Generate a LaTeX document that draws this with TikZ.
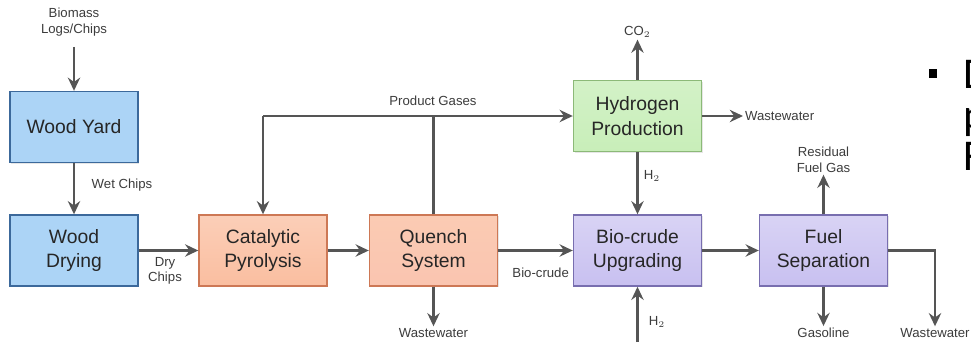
\documentclass[tikz,border=0pt]{standalone}
\usepackage{fontspec}
\setmainfont{Liberation Sans}
\newfontfamily\slidefont{Carlito}
\usepackage{tikz}
\usetikzlibrary{arrows.meta, positioning, calc, shadows}
\definecolor{flowgray}{RGB}{85, 85, 85}
\definecolor{yardblue}{RGB}{172, 212, 246}
\definecolor{yardedge}{RGB}{60, 105, 155}
\definecolor{pyroorange}{RGB}{250, 190, 160}
\definecolor{pyroedge}{RGB}{205, 120, 85}
\definecolor{hydrogreen}{RGB}{200, 238, 185}
\definecolor{hydroedge}{RGB}{140, 185, 120}
\definecolor{upgpurple}{RGB}{200, 192, 240}
\definecolor{upgedge}{RGB}{120, 110, 175}
\definecolor{labelgray}{RGB}{60, 60, 60}

\begin{document}
\begin{tikzpicture}[x=0.2mm, y=-0.2mm,
    proc/.style={draw, line width=0.8pt, minimum width=25.6mm, minimum height=14.2mm,
                 align=center, text=black!85, font=\fontsize{11}{14}\selectfont,
                 drop shadow={opacity=0.2, shadow xshift=0.8pt, shadow yshift=-0.8pt}},
    flow/.style={draw=flowgray, line width=1.4pt, -{Stealth[length=7.5pt, width=7pt, inset=2.5pt]}},
    pipe/.style={draw=flowgray, line width=1.4pt},
    tag/.style={text=labelgray, align=center, inner sep=1pt,
                font=\fontsize{7.5}{8.8}\selectfont}]
    \useasboundingbox (0,0) rectangle (971,342);
    % Process units
    \node[proc, fill=yardblue, draw=yardedge] (woodyard) at (74,127) {Wood Yard};
    \node[proc, fill=yardblue, draw=yardedge] (wooddrying) at (74,250.5) {Wood\\Drying};
    \node[proc, top color=pyroorange!75, bottom color=pyroorange, draw=pyroedge]
        (pyrolysis) at (263,250.5) {Catalytic\\Pyrolysis};
    \node[proc, top color=pyroorange!80, bottom color=pyroorange!110!orange, draw=pyroedge]
        (quench) at (433.5,250.5) {Quench\\System};
    \node[proc, top color=upgpurple!70, bottom color=upgpurple, draw=upgedge]
        (upgrading) at (637.5,250.5) {Bio-crude\\Upgrading};
    \node[proc, top color=hydrogreen!80, bottom color=hydrogreen, draw=hydroedge]
        (hydrogen) at (637.5,116) {Hydrogen\\Production};
    \node[proc, top color=upgpurple!70, bottom color=upgpurple, draw=upgedge]
        (separation) at (823.5,250.5) {Fuel\\Separation};
    % Feed and product streams
    \node[tag] (biomass) at (74,22) {Biomass\\Logs/Chips};
    \node[tag] (co2) at (637.5,32) {CO$_2$};
    \node[tag, anchor=west] (wwhydro) at (743,116) {Wastewater};
    \node[tag] (wwquench) at (433.5,333) {Wastewater};
    \node[tag] (fuelgas) at (823.5,160) {Residual\\Fuel Gas};
    \node[tag] (gasoline) at (823.5,333) {Gasoline};
    \node[tag] (wwsep) at (935,333) {Wastewater};
    \coordinate (h2in) at (637.5,342);
    % Stream labels
    \node[tag] (wetchips) at (122,185) {Wet Chips};
    \node[tag] (drychips) at (165,271) {Dry\\Chips};
    \node[tag] (gaslabel) at (433,101) {Product Gases};
    \node[tag, anchor=east] (biocrude) at (571,273) {Bio-crude};
    \node[tag] (h2top) at (652,176) {H$_2$};
    \node[tag] (h2bot) at (657,322) {H$_2$};
    % Connectors
    \draw[flow] ([yshift=-5pt]biomass.south) -- (woodyard.north);
    \draw[flow] (woodyard) -- (wooddrying);
    \draw[flow] (wooddrying) -- (pyrolysis);
    \draw[flow] (pyrolysis) -- (quench);
    \draw[flow] (quench) -- (upgrading);
    \draw[flow] (upgrading) -- (separation);
    \draw[pipe] (quench.north) -- (quench.north |- hydrogen.west);
    \draw[flow] (hydrogen.west -| pyrolysis.north) -- (hydrogen.west);
    \draw[flow] (hydrogen.west -| pyrolysis.north) -- (pyrolysis.north);
    \draw[flow] (quench.south) -- (wwquench.north);
    \draw[flow] (hydrogen.north) -- (co2.south);
    \draw[flow] (hydrogen.east) -- (wwhydro.west);
    \draw[flow] (hydrogen) -- (upgrading);
    \draw[flow] (h2in) -- (upgrading.south);
    \draw[flow] (separation.north) -- (fuelgas.south);
    \draw[flow] (separation.south) -- (gasoline.north);
    \draw[flow] (separation.east) -| (wwsep.north);
    % Slide text cut off at the edge
    \fill[black] (929,69) rectangle (937,78);
    \node[anchor=base west, inner sep=0pt, font=\slidefont\fontsize{25}{30}\selectfont]
        (lineone) at (963,88) {D};
    \node[anchor=base west, inner sep=0pt, font=\slidefont\fontsize{25}{30}\selectfont]
        (linetwo) at (963,129) {p};
    \node[anchor=base west, inner sep=0pt, font=\slidefont\fontsize{25}{30}\selectfont]
        (linethree) at (963,170) {F};
\end{tikzpicture}
\end{document}
